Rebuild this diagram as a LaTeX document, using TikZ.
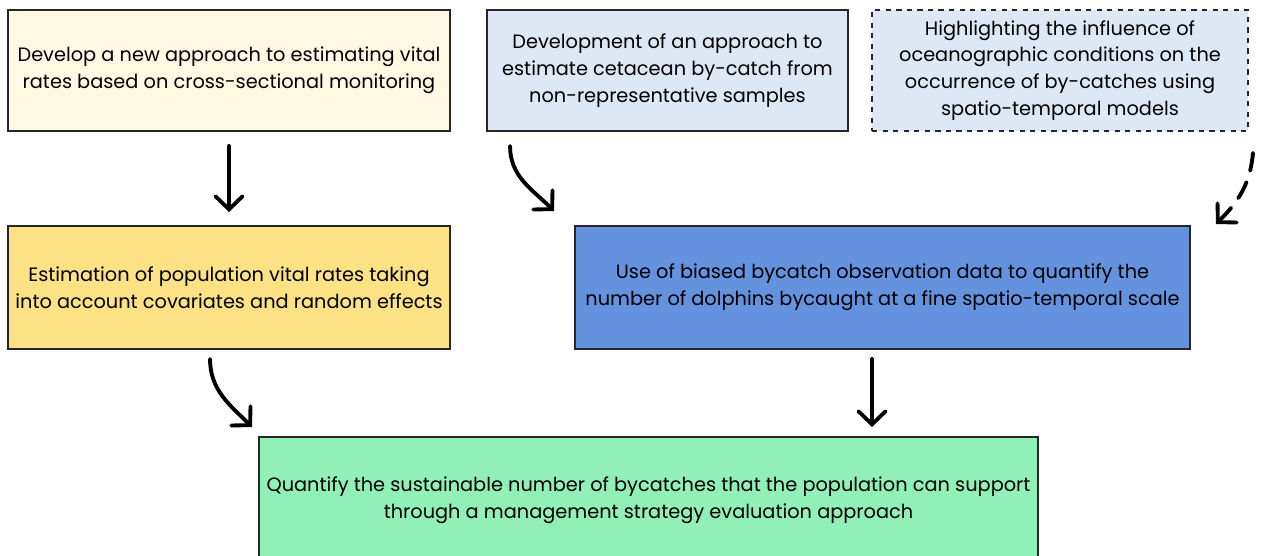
\documentclass[tikz,border=0pt]{standalone}
\usepackage{fontspec}
\setmainfont{Poppins}
\usetikzlibrary{arrows.meta}
\definecolor{cream}{HTML}{FFF8E3}
\definecolor{paleblue}{HTML}{DDE8F4}
\definecolor{gold}{HTML}{FDE185}
\definecolor{midblue}{HTML}{6592DF}
\definecolor{mint}{HTML}{91EFB8}
\begin{document}
\begin{tikzpicture}[x=0.2mm,y=-0.2mm,
    box/.style={draw=black!85,line width=1.1pt,align=center,font=\fontsize{11}{15.3}\selectfont,inner sep=0pt},
    arr/.style={line width=2.2pt,line cap=round,-{Straight Barb[length=2.6mm,width=5.4mm,line cap=round]}}]
    \useasboundingbox (0,0) rectangle (1262,555);
    \node[box,fill=cream,minimum width=8.84cm,minimum height=2.42cm] (vital) at (229,70.5)
        {Develop a new approach to estimating vital\\rates based on cross-sectional monitoring};
    \node[box,fill=paleblue,minimum width=7.22cm,minimum height=2.42cm] (bycatch) at (667.5,70.5)
        {Development of an approach to\\estimate cetacean by-catch from\\non-representative samples};
    \node[box,fill=paleblue,dashed,minimum width=7.52cm,minimum height=2.42cm] (ocean) at (1060,70.5)
        {Highlighting the influence of\\oceanographic conditions on the\\occurrence of by-catches using\\spatio-temporal models};
    \node[box,fill=gold,minimum width=8.84cm,minimum height=2.46cm] (rates) at (229,287.5)
        {Estimation of population vital rates taking\\into account covariates and random effects};
    \node[box,fill=midblue,minimum width=12.3cm,minimum height=2.46cm] (dolphins) at (882.5,287.5)
        {Use of biased bycatch observation data to quantify the\\number of dolphins bycaught at a fine spatio-temporal scale};
    \node[box,fill=mint,minimum width=15.58cm,minimum height=2.52cm] (mse) at (648.5,500)
        {Quantify the sustainable number of bycatches that the population can support\\through a management strategy evaluation approach};
    % arrow ends
    \coordinate (b1) at ([shift={(24,14)}]bycatch.south west);
    \coordinate (b2) at ([shift={(-20,-14)}]dolphins.north west);
    \coordinate (c1) at ([shift={(4,21)}]ocean.south east);
    \coordinate (c2) at ([shift={(25,-1)}]dolphins.north east);
    \coordinate (r1) at ([shift={(203,9)}]rates.south west);
    \coordinate (r2) at ([shift={(-6,-9)}]mse.north west);
    \coordinate (d1) at ([shift={(-10.5,9)}]dolphins.south);
    \coordinate (d2) at (d1 |- mse.north);
    \draw[arr,shorten <=2.8mm,shorten >=2.6mm] (vital) -- (rates);
    \draw[arr] (b1) to[out=-90,in=135] (b2);
    \draw[arr,dash pattern=on 3.6mm off 2.4mm] (c1) to[out=-95,in=45] (c2);
    \draw[arr] (r1) to[out=-90,in=135] (r2);
    \draw[arr,shorten >=1.8mm] (d1) -- (d2);
\end{tikzpicture}
\end{document}
